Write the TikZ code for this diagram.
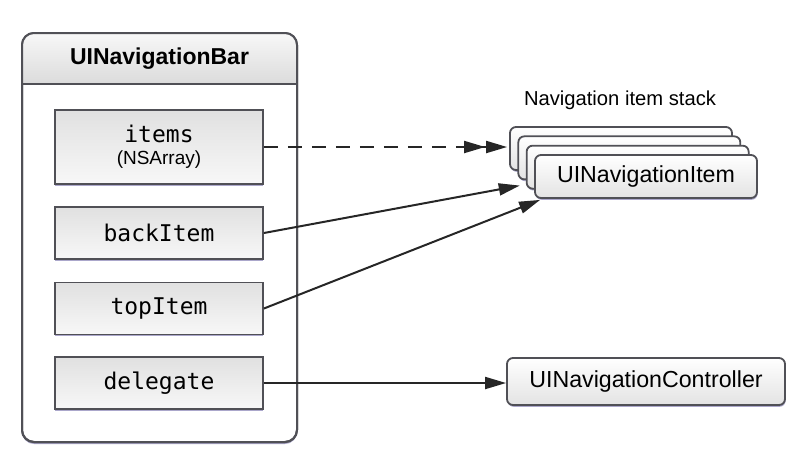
\documentclass[tikz,border=0pt]{standalone}
\usepackage{fontspec}
\setmainfont{Liberation Sans}
\setsansfont{Liberation Sans}
\setmonofont{DejaVu Sans Mono}
\usepackage{tikz}
\usetikzlibrary{calc, positioning, arrows.meta, shadows}
\definecolor{frame}{RGB}{80, 80, 86}
\definecolor{lilac}{RGB}{150, 145, 190}

\begin{document}
\begin{tikzpicture}[x=0.5pt, y=-0.5pt, >={Triangle[length=10.5pt, width=6pt]},
  field/.style={draw=frame, line width=0.9pt, top color=gray!24, bottom color=gray!6,
    minimum width=104pt, minimum height=26pt, font=\fontsize{11.5}{13}\ttfamily,
    drop shadow={shadow xshift=0pt, shadow yshift=-0.9pt, fill=lilac, opacity=0.8}},
  card/.style={draw=frame, line width=0.9pt, rounded corners=3pt, top color=white,
    bottom color=gray!22, minimum width=111pt, minimum height=21.5pt,
    font=\fontsize{11.6}{14}\selectfont,
    drop shadow={shadow xshift=0.3pt, shadow yshift=-0.9pt, fill=lilac, opacity=0.8}},
  link/.style={->, line width=1pt, black!85}]
  \useasboundingbox (0,0) rectangle (800,463);

  % the navigation bar
  \node[draw=frame, line width=1pt, rounded corners=6pt, fill=white, outer sep=0pt,
    minimum width=137.5pt, minimum height=204.5pt,
    drop shadow={shadow xshift=0pt, shadow yshift=-1pt, fill=lilac, opacity=0.8}]
    (bar) at (159.5,237.5) {};
  \coordinate (headline) at (0,84);
  \begin{scope}
    \clip[rounded corners=6pt] (bar.south west) rectangle (bar.north east);
    \shade[top color=gray!6, bottom color=gray!28] (bar.north west) rectangle (bar.east |- headline);
  \end{scope}
  \draw[frame, line width=0.9pt] (bar.west |- headline) -- (bar.east |- headline);
  \draw[frame, line width=1pt, rounded corners=6pt] (bar.south west) rectangle (bar.north east);
  \node[font=\fontsize{11.5}{13}\bfseries] (title) at (159.5,58.5) {UINavigationBar};

  \node[field, minimum height=37pt, align=center] (items) at (159,147)
    {items\\[-2pt]{\normalfont\fontsize{9.5}{11}\selectfont (NSArray)}};
  \node[field] (back) at (159,233) {backItem};
  \node[field] (top) at (159,308.5) {topItem};
  \node[field] (delegate) at (159,383) {delegate};

  % item stack
  \node[font=\fontsize{10.1}{12}\selectfont] (stacklabel) at (620,100) {Navigation item stack};
  \foreach \i in {0,1,2}
    \node[card] (stack\i) at ({621+8.33*\i},{148.5+9.33*\i}) {};
  \node[card] (stack3) at (646,176.5) {UINavigationItem};

  \node[card, minimum width=139pt, minimum height=23.5pt] (navctl) at (646,381.5) {UINavigationController};

  % links
  \draw[link, dash pattern=on 7pt off 5pt, -{>[sep=0.5pt]>}] (items.east) -- ($(items.east -| stack0.west)+(-2,0)$);
  \draw[link] (back.east) -- ($(stack2.south west)+(-6,-4)$);
  \draw[link] (top.east) -- ($(stack3.south west)+(6,1)$);
  \draw[link] (delegate.east) -- (delegate.east -| navctl.west);
\end{tikzpicture}
\end{document}
